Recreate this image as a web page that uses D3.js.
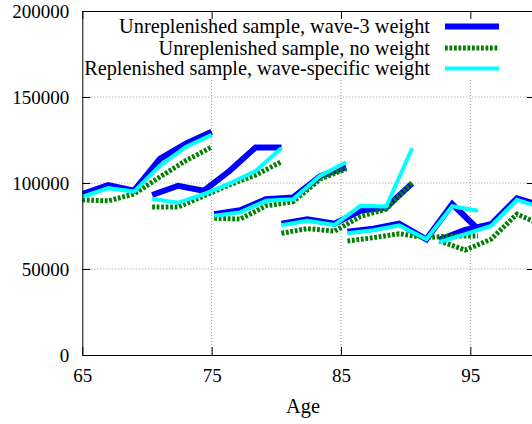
<!DOCTYPE html>
<html><head><meta charset="utf-8">
<script src="https://cdn.jsdelivr.net/npm/d3@7"></script>
<style>
body{margin:0;background:#fff}
svg{display:block}
svg text{font-family:'Liberation Serif','Times New Roman',Times,serif;fill:#000}
svg .tick text{font-size:19px}
svg .word{font-size:20.3px}
</style>
</head><body>
<svg id="c" width="532" height="424"></svg>
<script>
// ---- data ----
const seriesNames = [
  "Unreplenished sample, wave-3 weight",
  "Unreplenished sample, no weight",
  "Replenished sample, wave-specific weight"
];
const seriesColors = ["#0000ff", "#008000", "#00ffff"];

// age at each wave for each cohort segment
const cohortAges = [
  [65, 67, 69, 71, 73, 75],
  [70.4, 72.4, 74.4, 76.4, 78.4, 80.4],
  [75.2, 77.2, 79.2, 81.3, 83.4, 85.4],
  [80.4, 82.4, 84.5, 86.5, 88.5, 90.5],
  [85.5, 87.5, 89.5, 91.6, 93.6, 95.6],
  [92.6, 94.6, 96.6, 98.6, 100.6]
];
const wave3Weight = [
  [93600, 98800, 95500, 114000, 122800, 129800],
  [93000, 98400, 95500, 107100, 120700, 120700],
  [81900, 84200, 90600, 91600, 103900, 109200],
  [76400, 78900, 76400, 83800, 85800, 99800],
  [71700, 73400, 76300, 67300, 87700, 73100],
  [67000, 72700, 76000, 91000, 86600]
];
const noWeight = [
  [90200, 89600, 93600, 103500, 113000, 120900],
  [86000, 86000, 92500, 99000, 104600, 112400],
  [79500, 79000, 86700, 89100, 102300, 108200],
  [70800, 73500, 72000, 80500, 84800, 100200],
  [66300, 68200, 70500, 68200, 69200, 69200],
  [66300, 61000, 67300, 81900, 75400]
];
const replenished = [
  [92000, 97000, 95000, 110000, 121000, 128000],
  [90800, 88500, 93600, 99800, 107000, 120300],
  [80900, 82900, 89700, 90600, 104300, 112100],
  [75400, 78000, 75600, 86700, 86300, 120200],
  [70800, 72500, 75400, 67300, 86500, 83900],
  [65600, 70300, 75000, 90200, 85600]
];
const xTicks = [65, 75, 85, 95];
const yTicks = [0, 50000, 100000, 150000, 200000];
const xLabel = "Age";

// ---- chart ----
const svg = d3.select("#c");
const L = 82.3, R = 535, T = 11, B = 355;
const x = d3.scaleLinear().domain([65, 100]).range([L, R]);
const y = d3.scaleLinear().domain([0, 200000]).range([B, T]);

// grid
const grid = svg.append("g").attr("stroke", "#999").attr("stroke-width", 1)
  .attr("stroke-dasharray", "1,2");
xTicks.filter(t => t > 65).forEach(t => {
  grid.append("line").attr("x1", x(t)).attr("x2", x(t)).attr("y1", T).attr("y2", B);
});
yTicks.filter(t => t > 0 && t < 200000).forEach(t => {
  grid.append("line").attr("x1", L).attr("x2", R).attr("y1", y(t)).attr("y2", y(t));
});

// opaque key box
svg.append("rect").attr("x", 80).attr("y", T).attr("width", R - 80).attr("height", 79 - T)
  .attr("fill", "#fff");

// data
svg.append("clipPath").attr("id", "clip").append("rect")
  .attr("x", L).attr("y", T).attr("width", R - L).attr("height", B - T);
const line = d3.line().x(d => x(d[0])).y(d => y(d[1]));
const allSeries = [wave3Weight, noWeight, replenished];
const widths = [6, 5, 4];
const dashes = [null, "2.8,1.7", null];
const plot = svg.append("g").attr("clip-path", "url(#clip)");
allSeries.forEach((ser, si) => {
  ser.forEach((vals, ci) => {
    const pts = vals.map((v, i) => [cohortAges[ci][i], v]);
    plot.append("path").attr("d", line(pts)).attr("fill", "none")
      .attr("stroke", seriesColors[si]).attr("stroke-width", widths[si])
      .attr("stroke-linejoin", "miter").attr("stroke-dasharray", dashes[si]);
  });
});

// axes
function styleAxis(g) {
  g.attr("font-family", null).attr("font-size", null);
  g.selectAll("line,path").attr("stroke", "#000");
}
svg.append("g").attr("transform", `translate(0,${B})`)
  .call(d3.axisBottom(x).tickValues(xTicks).tickSizeInner(-8).tickSizeOuter(0).tickPadding(14)
    .tickFormat(d3.format("d"))).call(styleAxis);
svg.append("g").attr("transform", `translate(${L},0)`)
  .call(d3.axisLeft(y).tickValues(yTicks).tickSizeInner(-8).tickSizeOuter(0).tickPadding(13)
    .tickFormat(d3.format("d"))).call(styleAxis);
svg.append("g").attr("transform", `translate(0,${T})`)
  .call(d3.axisTop(x).tickValues(xTicks).tickSizeInner(-8).tickSizeOuter(0).tickFormat(""))
  .call(styleAxis);
svg.append("g").attr("transform", `translate(${R},0)`)
  .call(d3.axisRight(y).tickValues(yTicks).tickSizeInner(-8).tickSizeOuter(0).tickFormat(""))
  .call(styleAxis);

// x label
svg.append("text").attr("class", "word").attr("x", 303).attr("y", 413)
  .attr("text-anchor", "middle").text(xLabel);

// legend
const legY = [26.5, 48, 68.5];
seriesNames.forEach((name, i) => {
  svg.append("text").attr("class", "word").attr("x", 430).attr("y", legY[i] + 6.8)
    .attr("text-anchor", "end").text(name);
  svg.append("line").attr("x1", 445).attr("x2", 499).attr("y1", legY[i]).attr("y2", legY[i])
    .attr("stroke", seriesColors[i]).attr("stroke-width", widths[i])
    .attr("stroke-dasharray", dashes[i]);
});
</script>
</body></html>
